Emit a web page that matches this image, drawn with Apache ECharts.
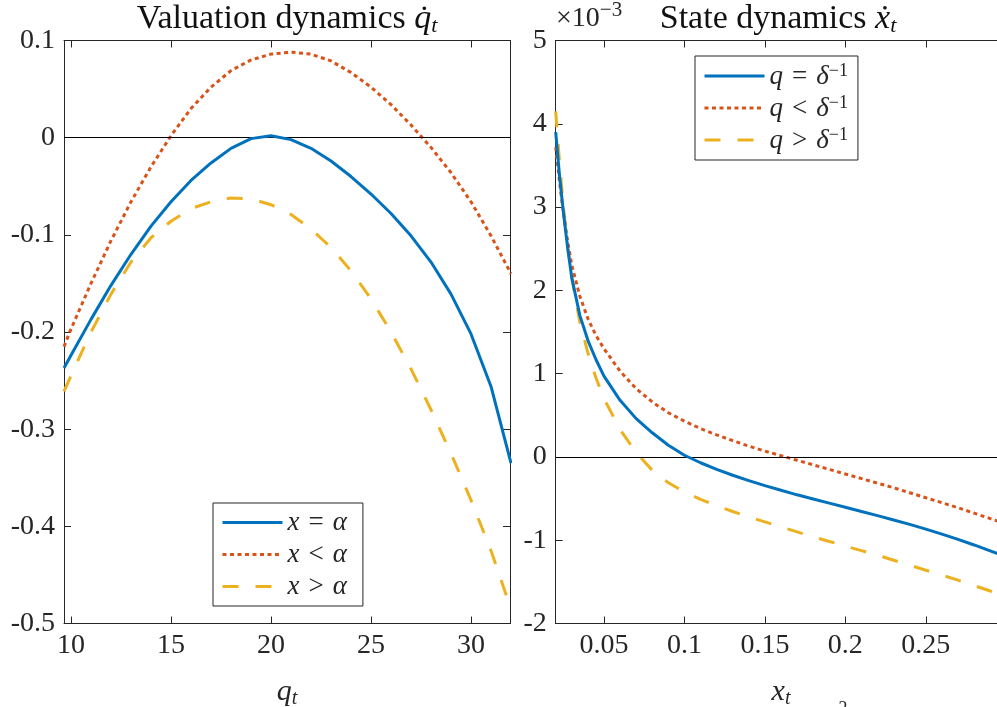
<!DOCTYPE html>
<html>
<head>
<meta charset="utf-8">
<script src="https://cdn.jsdelivr.net/npm/echarts@6/dist/echarts.min.js"></script>
<style>html,body{margin:0;padding:0;background:#fff;overflow:hidden;}#c{width:997px;height:707px;}</style>
</head>
<body>
<div id="c"></div>
<script>
// ---- Left panel: valuation dynamics ----
const qGrid = [9.65, 10, 11, 12, 13, 14, 15, 16, 17, 18, 19, 20, 21, 22, 23, 24, 25, 26, 27, 28, 29, 30, 31, 32];
const qdotEqual = [-0.237, -0.224, -0.187, -0.152, -0.120, -0.091, -0.066, -0.044, -0.026, -0.011, -0.001, 0.002, -0.002, -0.011, -0.024, -0.040, -0.058, -0.078, -0.101, -0.128, -0.161, -0.202, -0.256, -0.335];
const qdotLess  = [-0.215, -0.197, -0.150, -0.106, -0.066, -0.030, 0.002, 0.030, 0.052, 0.069, 0.080, 0.086, 0.088, 0.086, 0.079, 0.067, 0.052, 0.034, 0.013, -0.010, -0.036, -0.066, -0.101, -0.140];
const qdotMore  = [-0.261, -0.245, -0.200, -0.161, -0.128, -0.103, -0.086, -0.073, -0.066, -0.062, -0.063, -0.069, -0.079, -0.094, -0.113, -0.137, -0.166, -0.200, -0.238, -0.280, -0.325, -0.373, -0.425, -0.485];
const leftXTicks = [10, 15, 20, 25, 30];
const leftYTicks = [-0.5, -0.4, -0.3, -0.2, -0.1, 0, 0.1];
const leftYLabels = ['-0.5', '-0.4', '-0.3', '-0.2', '-0.1', '0', '0.1'];

// ---- Right panel: state dynamics (values in 1e-3) ----
const xGrid = [0.02, 0.0225, 0.025, 0.0275, 0.03, 0.035, 0.04, 0.045, 0.05, 0.06, 0.07, 0.08, 0.09, 0.10, 0.11, 0.12, 0.13, 0.14, 0.15, 0.16, 0.17, 0.18, 0.19, 0.20, 0.21, 0.22, 0.23, 0.24, 0.25, 0.26, 0.27, 0.28, 0.29, 0.30];
const xdotEqual = [3.9, 3.35, 2.9, 2.5, 2.15, 1.7, 1.4, 1.17, 0.97, 0.68, 0.46, 0.29, 0.14, 0.02, -0.07, -0.15, -0.22, -0.285, -0.345, -0.40, -0.455, -0.505, -0.555, -0.605, -0.655, -0.705, -0.757, -0.81, -0.867, -0.927, -0.99, -1.057, -1.127, -1.2];
const xdotLess  = [3.72, 3.28, 2.9, 2.58, 2.3, 1.93, 1.66, 1.46, 1.3, 1.03, 0.82, 0.66, 0.53, 0.43, 0.34, 0.265, 0.195, 0.13, 0.07, 0.015, -0.04, -0.095, -0.15, -0.205, -0.26, -0.315, -0.37, -0.43, -0.49, -0.55, -0.61, -0.675, -0.74, -0.805];
const xdotMore  = [4.15, 3.5, 2.97, 2.52, 2.15, 1.62, 1.25, 0.95, 0.7, 0.33, 0.05, -0.16, -0.31, -0.42, -0.51, -0.585, -0.655, -0.72, -0.78, -0.84, -0.9, -0.96, -1.015, -1.07, -1.125, -1.18, -1.24, -1.3, -1.36, -1.42, -1.48, -1.545, -1.61, -1.675];
const rightXTicks = [0.05, 0.1, 0.15, 0.2, 0.25, 0.3];
const rightXLabelTicks = [0.05, 0.1, 0.15, 0.2, 0.25];
const rightXLabels = ['0.05', '0.1', '0.15', '0.2', '0.25'];
const rightYTicks = [-2, -1, 0, 1, 2, 3, 4, 5];

const leftNames = ['x = α', 'x < α', 'x > α'];
const rightNames = ['q = δ⁻¹', 'q < δ⁻¹', 'q > δ⁻¹'];

const FONT = 'Liberation Serif';
const AX = '#262626';
const BLUE = '#0072BD', RED = '#D95319', YEL = '#EDB120';

function pairs(xs, ys) { return xs.map((x, i) => [x, ys[i]]); }
function labelFor(ticks, labels) {
  return function (v) {
    for (let i = 0; i < ticks.length; i++) if (Math.abs(ticks[i] - v) < 1e-9) return labels[i];
    return '';
  };
}

const chart = echarts.init(document.getElementById('c'), null, { renderer: 'canvas' });

const tickLabelStyle = { fontFamily: FONT, fontSize: 28, color: AX };
const axLine = { show: true, onZero: false, lineStyle: { color: AX, width: 1 } };
const tick = { show: true, inside: true, length: 7, lineStyle: { color: AX, width: 1 } };

function xAx(gi, min, max, ticks, labelTicks, labels, pos, name) {
  const o = {
    type: 'value', gridIndex: gi, min: min, max: max, position: pos,
    axisLine: axLine, splitLine: { show: false },
    axisTick: Object.assign({}, tick, { customValues: ticks }),
    axisLabel: pos === 'bottom'
      ? Object.assign({}, tickLabelStyle, { show: true, margin: 8, customValues: labelTicks, formatter: labelFor(labelTicks, labels) })
      : { show: false }
  };
  if (name) {
    o.name = name;
    o.nameLocation = 'middle';
    o.nameGap = 53;
    o.nameTextStyle = {
      fontFamily: FONT, fontSize: 30, color: AX,
      rich: {
        i: { fontFamily: FONT, fontSize: 30, fontStyle: 'italic', color: AX, lineHeight: 32, verticalAlign: 'middle' },
        s: { fontFamily: FONT, fontSize: 20, fontStyle: 'italic', color: AX, lineHeight: 20, verticalAlign: 'bottom' }
      }
    };
  }
  return o;
}
function yAx(gi, min, max, ticks, labels, pos) {
  return {
    type: 'value', gridIndex: gi, min: min, max: max, position: pos,
    axisLine: axLine, splitLine: { show: false },
    axisTick: Object.assign({}, tick, { customValues: ticks }),
    axisLabel: pos === 'left'
      ? Object.assign({}, tickLabelStyle, { show: true, margin: 9, customValues: ticks, formatter: labelFor(ticks, labels) })
      : { show: false }
  };
}

function ser(name, xi, yi, data, color, type, z, withZero) {
  const s = {
    name: name, type: 'line', xAxisIndex: xi, yAxisIndex: yi, data: data,
    showSymbol: false, symbol: 'none', smooth: false, clip: true, z: z,
    lineStyle: { color: color, width: 3, type: type, cap: 'butt' },
    itemStyle: { color: color },
    emphasis: { disabled: true }, animation: false
  };
  if (withZero) {
    s.markLine = {
      silent: true, symbol: ['none', 'none'], label: { show: false },
      lineStyle: { color: '#000', width: 1, type: 'solid' },
      data: [{ yAxis: 0 }], animation: false
    };
  }
  return s;
}

const legRichL = {
  i: { fontFamily: FONT, fontSize: 27, fontStyle: 'italic', color: AX, lineHeight: 28 },
  n: { fontFamily: FONT, fontSize: 27, color: AX, lineHeight: 28 }
};
const legRichR = {
  i: { fontFamily: FONT, fontSize: 27, fontStyle: 'italic', color: AX, lineHeight: 28, verticalAlign: 'bottom' },
  n: { fontFamily: FONT, fontSize: 27, color: AX, lineHeight: 28, verticalAlign: 'bottom' },
  p: { fontFamily: FONT, fontSize: 18, color: AX, lineHeight: 18, verticalAlign: 'top' }
};
const legItem = { opacity: 0, borderWidth: 0 };
const legLine = { width: 3 };

const option = {
  animation: false,
  backgroundColor: '#fff',
  grid: [
    { left: 64, width: 446, top: 40.5, height: 583, containLabel: false, outerBoundsMode: 'none' },
    { left: 555.7, width: 450.6, top: 40.5, height: 583, containLabel: false, outerBoundsMode: 'none' }
  ],
  xAxis: [
    xAx(0, 9.65, 31.95, leftXTicks, leftXTicks, leftXTicks.map(String), 'bottom', '{i|q}{s|t}'),
    xAx(0, 9.65, 31.95, leftXTicks, leftXTicks, leftXTicks.map(String), 'top'),
    xAx(1, 0.02, 0.3, rightXTicks, rightXLabelTicks, rightXLabels, 'bottom', '{i|x}{s|t}'),
    xAx(1, 0.02, 0.3, rightXTicks, rightXLabelTicks, rightXLabels, 'top')
  ],
  yAxis: [
    yAx(0, -0.5, 0.1, leftYTicks, leftYLabels, 'left'),
    yAx(0, -0.5, 0.1, leftYTicks, leftYLabels, 'right'),
    yAx(1, -2, 5, rightYTicks, rightYTicks.map(String), 'left'),
    yAx(1, -2, 5, rightYTicks, rightYTicks.map(String), 'right')
  ],
  legend: [
    {
      data: leftNames, orient: 'vertical', left: 213, top: 503,
      padding: [6, 16, 6, 8], itemGap: 5, itemWidth: 60, itemHeight: 28,
      borderColor: AX, borderWidth: 1, backgroundColor: '#fff',
      selectedMode: false, itemStyle: legItem, lineStyle: legLine,
      textStyle: { fontFamily: FONT, fontSize: 27, color: AX, rich: legRichL },
      formatter: function (n) {
        const parts = { 'x = α': '{i|x}{n|\u2004=\u2004}{i|α}', 'x < α': '{i|x}{n|\u2004<\u2004}{i|α}', 'x > α': '{i|x}{n|\u2004>\u2004}{i|α}' };
        return parts[n];
      }
    },
    {
      data: rightNames, orient: 'vertical', left: 695, top: 56,
      padding: [6, 10, 6, 8], itemGap: 4, itemWidth: 60, itemHeight: 28,
      borderColor: AX, borderWidth: 1, backgroundColor: '#fff',
      selectedMode: false, itemStyle: legItem, lineStyle: legLine,
      textStyle: { fontFamily: FONT, fontSize: 27, color: AX, rich: legRichR },
      formatter: function (n) {
        const op = n.charAt(2);
        return '{i|q}{n|\u2004' + op + '\u2004}{i|δ}{p|−1}';
      }
    }
  ],
  graphic: [
    {
      type: 'text', x: 287, y: 1, silent: true,
      style: {
        text: '{n|Valuation dynamics }{i|q̇}{s|t}',
        align: 'center', verticalAlign: 'top',
        rich: {
          n: { fontFamily: FONT, fontSize: 34, fill: '#111', lineHeight: 36, verticalAlign: 'middle' },
          i: { fontFamily: FONT, fontSize: 34, fontStyle: 'italic', fill: '#111', lineHeight: 36, verticalAlign: 'middle' },
          s: { fontFamily: FONT, fontSize: 22, fontStyle: 'italic', fill: '#111', lineHeight: 22, verticalAlign: 'bottom' }
        }
      }
    },
    {
      type: 'text', x: 778, y: 1, silent: true,
      style: {
        text: '{n|State dynamics }{i|ẋ}{s|t}',
        align: 'center', verticalAlign: 'top',
        rich: {
          n: { fontFamily: FONT, fontSize: 34, fill: '#111', lineHeight: 36, verticalAlign: 'middle' },
          i: { fontFamily: FONT, fontSize: 34, fontStyle: 'italic', fill: '#111', lineHeight: 36, verticalAlign: 'middle' },
          s: { fontFamily: FONT, fontSize: 22, fontStyle: 'italic', fill: '#111', lineHeight: 22, verticalAlign: 'bottom' }
        }
      }
    },
    {
      type: 'text', x: 556, y: 0, silent: true,
      style: {
        text: '{n|×10}{p|−3}',
        align: 'left', verticalAlign: 'top',
        rich: {
          n: { fontFamily: FONT, fontSize: 28, fill: AX, lineHeight: 33, verticalAlign: 'bottom' },
          p: { fontFamily: FONT, fontSize: 21, fill: AX, lineHeight: 21, verticalAlign: 'top' }
        }
      }
    },
    {
      type: 'text', x: 843, y: 700, silent: true,
      style: { text: '2', fontFamily: FONT, fontSize: 18, fill: AX, align: 'center', verticalAlign: 'top' }
    }
  ],
  series: [
    ser(leftNames[0], 0, 0, pairs(qGrid, qdotEqual), BLUE, 'solid', 5, true),
    ser(leftNames[1], 0, 0, pairs(qGrid, qdotLess), RED, [4, 3.5], 4, false),
    ser(leftNames[2], 0, 0, pairs(qGrid, qdotMore), YEL, [16, 17], 3, false),
    ser(rightNames[0], 2, 2, pairs(xGrid, xdotEqual), BLUE, 'solid', 5, true),
    ser(rightNames[1], 2, 2, pairs(xGrid, xdotLess), RED, [4, 3.5], 4, false),
    ser(rightNames[2], 2, 2, pairs(xGrid, xdotMore), YEL, [16, 17], 3, false)
  ]
};
chart.setOption(option);
</script>
</body>
</html>
